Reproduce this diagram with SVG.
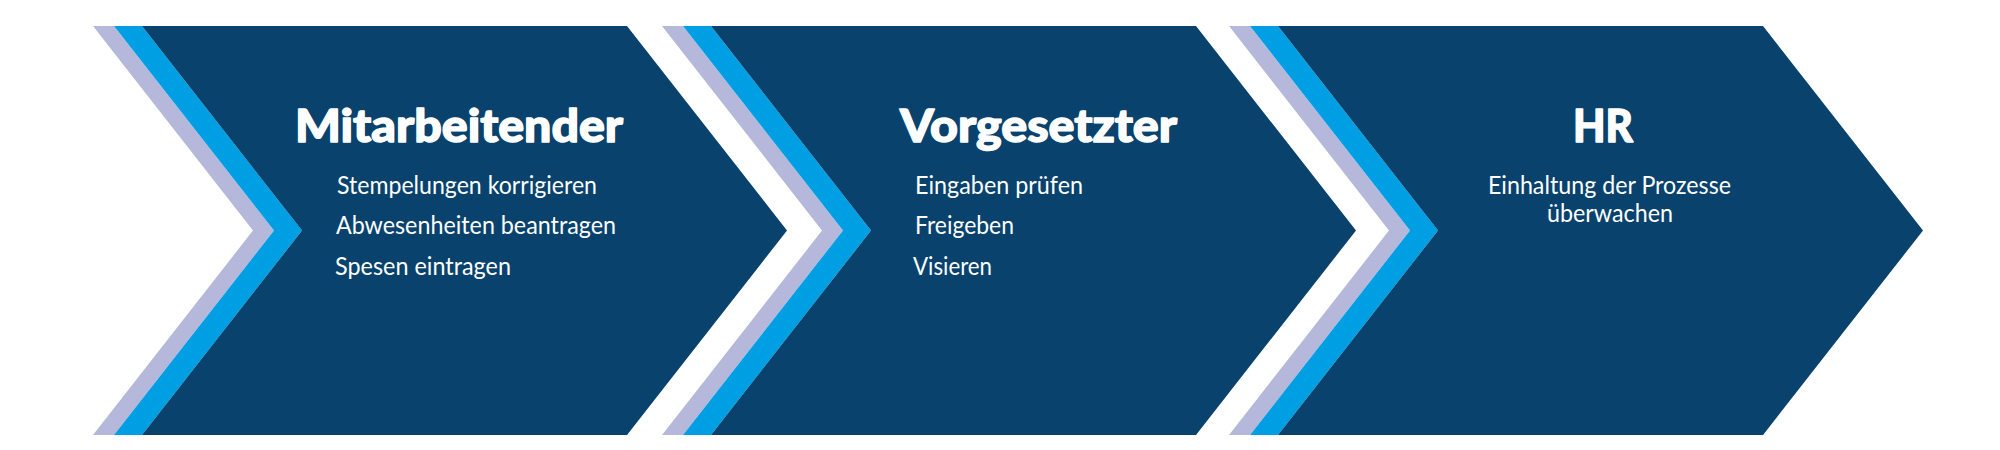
<svg xmlns="http://www.w3.org/2000/svg" width="2000" height="450" viewBox="0 0 2000 450">
<style>
.lav{fill:#B5B8DA}
.blu{fill:#009FE3}
.dark{fill:#08426D}
.title{font-family:Lato,"Liberation Sans",sans-serif;font-weight:900;font-size:46px;fill:#FFFFFF;stroke:#FFFFFF;stroke-width:1.4px;stroke-linejoin:round}
.item{font-family:Lato,"Liberation Sans",sans-serif;font-weight:400;font-size:25px;fill:#FFFFFF}
</style>
<defs>
<g id="chev">
<polygon class="lav" points="93,26 114,26 274,230.5 114,435 93,435 253,230.5"/>
<polygon class="blu" points="114,26 142,26 302,230.5 142,435 114,435 274,230.5"/>
<polygon class="dark" points="142,26 627,26 787,230.5 627,435 142,435 302,230.5"/>
</g>
</defs>
<rect width="2000" height="450" fill="#FFFFFF"/>
<g id="connectors"/>
<g id="node-mitarbeitender">
<use href="#chev"/>
<text class="title" x="295" y="142" textLength="328" lengthAdjust="spacingAndGlyphs">Mitarbeitender</text>
<text class="item" x="337" y="194" textLength="260" lengthAdjust="spacingAndGlyphs">Stempelungen korrigieren</text>
<text class="item" x="336" y="233.5" textLength="280" lengthAdjust="spacingAndGlyphs">Abwesenheiten beantragen</text>
<text class="item" x="335" y="275" textLength="176" lengthAdjust="spacingAndGlyphs">Spesen eintragen</text>
</g>
<g id="node-vorgesetzter">
<use href="#chev" transform="translate(569,0)"/>
<text class="title" x="900" y="142" textLength="277" lengthAdjust="spacingAndGlyphs">Vorgesetzter</text>
<text class="item" x="915" y="193.5" textLength="168" lengthAdjust="spacingAndGlyphs">Eingaben prüfen</text>
<text class="item" x="915" y="233.5" textLength="99" lengthAdjust="spacingAndGlyphs">Freigeben</text>
<text class="item" x="913" y="275" textLength="79" lengthAdjust="spacingAndGlyphs">Visieren</text>
</g>
<g id="node-hr">
<use href="#chev" transform="translate(1136,0)"/>
<text class="title" x="1573" y="142" textLength="60" lengthAdjust="spacingAndGlyphs">HR</text>
<text class="item" x="1488" y="193.5" textLength="243" lengthAdjust="spacingAndGlyphs">Einhaltung der Prozesse</text>
<text class="item" x="1547" y="222" textLength="126" lengthAdjust="spacingAndGlyphs">überwachen</text>
</g>
</svg>
